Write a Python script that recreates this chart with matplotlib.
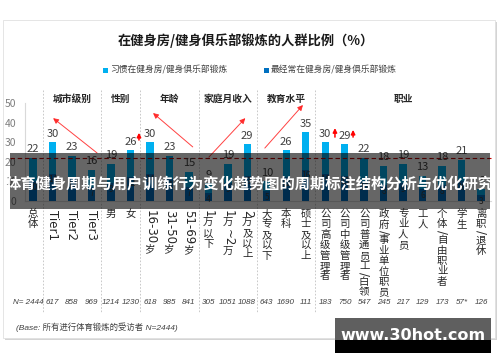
import matplotlib
matplotlib.use('Agg')
import matplotlib.pyplot as plt
from matplotlib.patches import Rectangle
from matplotlib.transforms import blended_transform_factory
import numpy as np

plt.rcParams['font.family'] = ['Noto Sans CJK SC', 'DejaVu Sans']

# ---------------- data ----------------
categories = ['总体', 'Tier1', 'Tier2', 'Tier3', '男', '女', '16-30岁', '31-50岁', '51-69岁',
              '1万以下', '1万~2万', '2万及以上', '大专及以下', '本科', '硕士及以上',
              '公司高级管理者', '公司中级管理者', '公司普通员工/白领', '政府/事业单位职员',
              '专业人员', '工人', '个体/自由职业者', '学生', '离职/退休']
habit = [22, 30, 23, 16, 19, 26, 30, 23, 15, 9, 19, 29, 10, 26, 35, 30, 29, 22, 18, 19, 13, 18, 21, 6]
most = [10, 14, 11, 7, 9, 12, 14, 11, 7, 4, 9, 13, 5, 12, 16, 14, 13, 10, 8, 9, 6, 8, 10, 3]
sample_n = ['2444', '617', '858', '969', '1214', '1230', '618', '985', '841', '305', '1051', '1088',
            '643', '1690', '111', '183', '750', '547', '245', '217', '129', '173', '57*', '126']
groups = [('城市级别', 1, 3), ('性别', 4, 5), ('年龄', 6, 8), ('家庭月收入', 9, 11),
          ('教育水平', 12, 14), ('职业', 15, 23)]
overall_avg = 22
yticks = [0, 10, 20, 30, 40, 50]
title = '在健身房/健身俱乐部锻炼的人群比例（%）'
legend_labels = ['习惯在健身房/健身俱乐部锻炼', '最经常在健身房/健身俱乐部锻炼']
base_note = '(Base: 所有进行体育锻炼的受访者 N=2444)'
banner_text = '体育健身周期与用户训练行为变化趋势图的周期标注结构分析与优化研究'
watermark = 'www.30hot.com'

LIGHT = '#00B0F0'
DARK = '#0070C0'
W, H = 500, 362


def fx(px):
    return px / W


def fy(py):
    return 1 - py / H


fig = plt.figure(figsize=(W / 100, H / 100), dpi=100)
fig.patch.set_facecolor('white')

# card with shadow
fig.add_artist(Rectangle((fx(5), fy(340)), (497 - 5) / W, (340 - 22) / H, transform=fig.transFigure,
                         facecolor='#d4d4d4', edgecolor='none', zorder=-3))
fig.add_artist(Rectangle((fx(3), fy(338)), (495 - 3) / W, (338 - 20) / H, transform=fig.transFigure,
                         facecolor='white', edgecolor='#e0e0e0', lw=0.6, zorder=-2))

ax = fig.add_axes([fx(25), fy(201), (491 - 25) / W, (201 - 103) / H])
ax.patch.set_visible(False)
x = np.arange(len(categories))
ax.set_xlim(-0.41, 23.51)
ax.set_ylim(0, 50)

ax.bar(x, habit, width=0.38, color=LIGHT, zorder=2)
ax.bar(x, most, width=0.38, color=DARK, zorder=3)

for i, v in enumerate(habit):
    ax.annotate(str(v), (i, v), xytext=(0, 2.5), textcoords='offset points', ha='center', va='bottom',
                fontsize=8, color='#404040', zorder=6)
for i, v in enumerate(most):
    ax.annotate(str(v), (i, v), xytext=(0, -1), textcoords='offset points', ha='center', va='top',
                fontsize=6, color='#404040', zorder=6)

ax.plot([-1.18, 23.51], [overall_avg, overall_avg], color='#C00000', lw=0.8, ls=(0, (4, 2.5)),
        clip_on=False, zorder=5)

ax.set_yticks(yticks)
ax.set_yticklabels([str(t) for t in yticks])
ax.tick_params(axis='y', length=0, pad=6, labelsize=7.5, labelcolor='#7f7f7f')
ax.set_xticks([])
for s in ['top', 'right']:
    ax.spines[s].set_visible(False)
ax.spines['left'].set_color('#d9d9d9')
ax.spines['bottom'].set_color('#d9d9d9')
ax.spines['left'].set_linewidth(0.8)
ax.spines['bottom'].set_linewidth(0.8)

blend = blended_transform_factory(ax.transData, fig.transFigure)

# group separators and headers
for name, a, b in groups:
    ax.text((a + b) / 2, fy(99), name, transform=blend, ha='center', va='center', fontsize=7,
            fontweight='bold', color='#262626')
for s in [0.5, 3.5, 5.5, 8.5, 11.5, 14.5]:
    ax.plot([s, s], [fy(90), fy(313)], transform=blend, clip_on=False, color='#c0c0c0', lw=0.6,
            ls=(0, (2, 2)), zorder=1)

# trend arrows
red = '#FF2020'
for tail, head in [((3.29, 24.5), (1.03, 42.3)), ((8.2, 27.6), (6.16, 44.9)),
                   ((9.03, 22.4), (10.9, 42.3)), ((11.9, 27.0), (13.86, 49.0))]:
    ax.annotate('', xy=head, xytext=tail,
                arrowprops=dict(arrowstyle='-|>', color=red, lw=0.7, mutation_scale=8, alpha=0.85,
                                shrinkA=0, shrinkB=0), annotation_clip=False)
for tail, head in [((5.44, 31.1), (5.44, 34.8)), ((15.5, 32.6), (15.5, 37.2)), ((16.43, 32.6), (16.43, 36.3))]:
    ax.annotate('', xy=head, xytext=tail,
                arrowprops=dict(arrowstyle='-|>', color='#FF0000', lw=1.1, mutation_scale=6,
                                shrinkA=0, shrinkB=0), annotation_clip=False)

# vertical category labels (CJK upright, Latin runs rotated)
renderer = fig.canvas.get_renderer()


def is_cjk(ch):
    return ord(ch) > 0x2E80


for i, lab in enumerate(categories):
    runs = []
    for ch in lab:
        c = is_cjk(ch)
        if runs and (not c) and (not runs[-1][0]):
            runs[-1][1] += ch
        else:
            runs.append([c, ch])
    cur = 209
    for c, s in runs:
        if c:
            ax.text(i, fy(cur), s, transform=blend, ha='center', va='top', fontsize=7.5, color='#262626')
            cur += 10.4
        else:
            t = ax.text(i, fy(cur + 0.5), s, transform=blend, ha='center', va='top', rotation=-90,
                        fontsize=8.5, family='DejaVu Sans', color='#262626')
            bb = t.get_window_extent(renderer)
            cur += bb.height + 1.5

# N row
fig.text(fx(44), fy(302), 'N= ' + sample_n[0], ha='right', va='center', fontsize=5.8, style='italic',
         family='Liberation Sans', color='#404040')
for i, n in enumerate(sample_n[1:], start=1):
    ax.text(i, fy(302), n, transform=blend, ha='center', va='center', fontsize=5.8, style='italic',
            family='Liberation Sans', color='#404040')

fig.text(fx(16), fy(327), base_note, ha='left', va='center', fontsize=6, style='italic',
         family=['Liberation Sans', 'Noto Sans CJK SC'], color='#404040')

# title and legend
fig.text(fx(246), fy(41), title, ha='center', va='center', fontsize=9.5, fontweight='bold', color='#1a1a1a')
for (sx, col, lab) in [(103, LIGHT, legend_labels[0]), (264, DARK, legend_labels[1])]:
    fig.add_artist(Rectangle((fx(sx), fy(72.5)), 5 / W, 5 / H, transform=fig.transFigure,
                             facecolor=col, edgecolor='none'))
    fig.text(fx(sx + 7), fy(70), lab, ha='left', va='center', fontsize=6.3, color='#404040')

# banner overlay
fig.add_artist(Rectangle((fx(10), fy(209)), (490 - 10) / W, (209 - 153) / H, transform=fig.transFigure,
                         facecolor='black', alpha=0.6, edgecolor='none', zorder=10))
fig.text(fx(250), fy(184), banner_text, ha='center', va='center', fontsize=11, fontweight='bold',
         color='white', zorder=11)

# watermark
fig.add_artist(Rectangle((fx(335), fy(340)), (491 - 335) / W, (340 - 318) / H, transform=fig.transFigure,
                         facecolor='#5f5f5f', edgecolor='none', zorder=10))
fig.add_artist(Rectangle((fx(335), fy(353)), (491 - 335) / W, (353 - 340) / H, transform=fig.transFigure,
                         facecolor='black', edgecolor='none', zorder=10))
fig.text(fx(413), fy(336), watermark, ha='center', va='center', fontsize=11.5, fontweight='bold',
         family='DejaVu Sans', color='white', zorder=11)

fig.savefig('out.png', dpi=100)
